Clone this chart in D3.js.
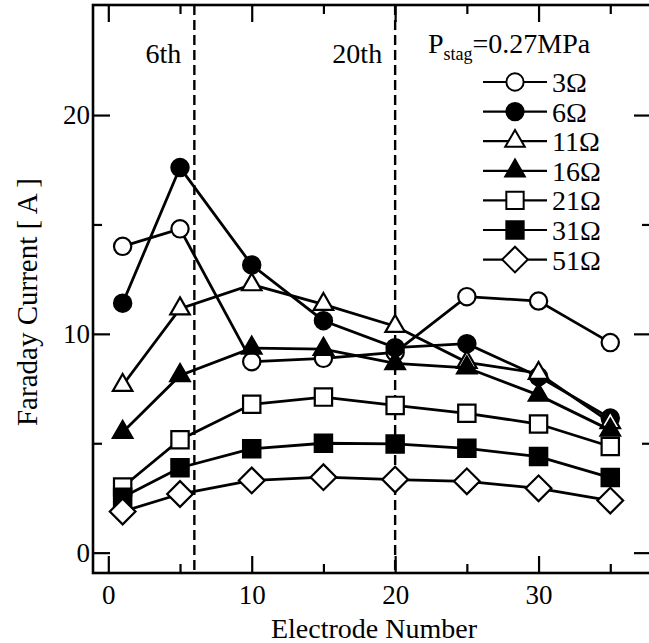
<!DOCTYPE html>
<html>
<head>
<meta charset="utf-8">
<script src="https://cdn.jsdelivr.net/npm/d3@7"></script>
<style>
  body { margin: 0; background: #fff; }
  svg { display: block; }
  text { font-family: "Liberation Serif", "Times New Roman", serif; fill: #000; }
</style>
</head>
<body>
<svg id="chart" width="649" height="643"></svg>
<script>
// Data
const electrodes = [1, 5, 10, 15, 20, 25, 30, 35];
const loadNames = ['3Ω', '6Ω', '11Ω', '16Ω', '21Ω', '31Ω', '51Ω'];
const load3 = [14.0, 14.8, 8.73, 8.88, 9.15, 11.7, 11.5, 9.6];
const load6 = [11.4, 17.6, 13.15, 10.6, 9.37, 9.55, 8.05, 6.15];
const load11 = [7.65, 11.15, 12.25, 11.35, 10.35, 8.7, 8.2, 5.95];
const load16 = [5.5, 8.1, 9.35, 9.3, 8.65, 8.45, 7.2, 5.6];
const load21 = [3.0, 5.16, 6.78, 7.11, 6.73, 6.37, 5.88, 4.85];
const load31 = [2.53, 3.88, 4.75, 5.0, 4.97, 4.77, 4.39, 3.43];
const load51 = [1.88, 2.68, 3.3, 3.45, 3.34, 3.26, 2.94, 2.38];
const seriesValues = [load3, load6, load11, load16, load21, load31, load51];
const markerTypes = ['circle', 'circle', 'triangle', 'triangle', 'square', 'square', 'diamond'];
const markerFilled = [false, true, false, true, false, true, false];

const xMajorTicks = [0, 10, 20, 30];
const xMinorTicks = [5, 15, 25, 35];
const yMajorTicks = [0, 10, 20];
const yMinorTicks = [5, 15];
const boundaryLines = [6, 20];
const boundaryLabels = ['6th', '20th'];

// Layout
const plotLeft = 93, plotRight = 651, plotTop = 5, plotBottom = 573;

const x = d3.scaleLinear().domain([-1.067, 37.84]).range([plotLeft, plotRight]);
const y = d3.scaleLinear().domain([-0.93, 25.03]).range([plotBottom, plotTop]);

const svg = d3.select('#chart');

// Axes with inward ticks
function addAxis(axis, transform, showLabels) {
    const g = svg.append('g').attr('transform', transform).call(axis);
    g.select('.domain').remove();
    g.selectAll('.tick line').attr('stroke', '#000').attr('stroke-width', 2.2);
    g.selectAll('.tick text')
        .style('font-family', '"Liberation Serif", "Times New Roman", serif')
        .style('font-size', '27px')
        .attr('fill', '#000');
    if (!showLabels) g.selectAll('.tick text').remove();
    return g;
}

addAxis(d3.axisBottom(x).tickValues(xMajorTicks).tickSizeInner(-17).tickSizeOuter(0).tickPadding(12).tickFormat(d3.format('d')),
    `translate(0,${plotBottom})`, true);
addAxis(d3.axisBottom(x).tickValues(xMinorTicks).tickSizeInner(-9).tickSizeOuter(0),
    `translate(0,${plotBottom})`, false);
addAxis(d3.axisTop(x).tickValues(xMajorTicks).tickSizeInner(-17).tickSizeOuter(0),
    `translate(0,${plotTop})`, false);
addAxis(d3.axisTop(x).tickValues(xMinorTicks).tickSizeInner(-9).tickSizeOuter(0),
    `translate(0,${plotTop})`, false);
addAxis(d3.axisLeft(y).tickValues(yMajorTicks).tickSizeInner(-17).tickSizeOuter(0).tickPadding(3).tickFormat(d3.format('d')),
    `translate(${plotLeft},0)`, true);
addAxis(d3.axisLeft(y).tickValues(yMinorTicks).tickSizeInner(-9).tickSizeOuter(0),
    `translate(${plotLeft},0)`, false);
addAxis(d3.axisRight(y).tickValues(yMajorTicks).tickSizeInner(-17).tickSizeOuter(0),
    `translate(${plotRight},0)`, false);
addAxis(d3.axisRight(y).tickValues(yMinorTicks).tickSizeInner(-9).tickSizeOuter(0),
    `translate(${plotRight},0)`, false);

// Frame
svg.append('rect')
    .attr('x', plotLeft).attr('y', plotTop)
    .attr('width', plotRight - plotLeft).attr('height', plotBottom - plotTop)
    .attr('fill', 'none').attr('stroke', '#000').attr('stroke-width', 2.6);

// Dashed boundary lines
svg.selectAll('.boundary')
    .data(boundaryLines)
    .enter()
    .append('line')
    .attr('class', 'boundary')
    .attr('x1', d => x(d)).attr('x2', d => x(d))
    .attr('y1', plotTop).attr('y2', plotBottom)
    .attr('stroke', '#000').attr('stroke-width', 2.4)
    .attr('stroke-dasharray', '10,5');

svg.selectAll('.boundary-label')
    .data(boundaryLines)
    .enter()
    .append('text')
    .attr('x', d => x(d) - 13)
    .attr('y', 63)
    .attr('text-anchor', 'end')
    .style('font-size', '28px')
    .text((d, i) => boundaryLabels[i]);

// Marker shapes
function markerPath(type) {
    if (type === 'circle') return d3.symbol(d3.symbolCircle, 235)();
    if (type === 'triangle') return d3.symbol(d3.symbolTriangle, 165)();
    if (type === 'square') return d3.symbol(d3.symbolSquare, 300)();
    return d3.symbol(d3.symbolSquare, 330)();
}
function markerRotate(type) {
    return type === 'diamond' ? ' rotate(45)' : '';
}

const line = d3.line()
    .x((d, i) => x(electrodes[i]))
    .y(d => y(d));

// Series
seriesValues.forEach((vals, s) => {
    const g = svg.append('g').attr('class', 'series');
    g.append('path')
        .attr('d', line(vals))
        .attr('fill', 'none')
        .attr('stroke', '#000')
        .attr('stroke-width', 2.8);
    g.selectAll('.mark')
        .data(vals)
        .enter()
        .append('path')
        .attr('class', 'mark')
        .attr('d', markerPath(markerTypes[s]))
        .attr('transform', (d, i) => `translate(${x(electrodes[i])},${y(d)})` + markerRotate(markerTypes[s]))
        .attr('fill', markerFilled[s] ? '#000' : '#fff')
        .attr('stroke', '#000')
        .attr('stroke-width', 2.2);
});

// Legend
svg.append('text')
    .attr('x', 428).attr('y', 53)
    .style('font-size', '28px')
    .html('P<tspan dy="7" style="font-size:18px">stag</tspan><tspan dy="-7">=0.27MPa</tspan>');

const legend = svg.selectAll('.legend-item')
    .data(loadNames)
    .enter()
    .append('g')
    .attr('class', 'legend-item')
    .attr('transform', (d, i) => `translate(0,${82 + i * 29.6})`);

legend.append('line')
    .attr('x1', 483).attr('x2', 547)
    .attr('y1', 0).attr('y2', 0)
    .attr('stroke', '#000').attr('stroke-width', 2.2);

legend.append('path')
    .attr('d', (d, i) => markerPath(markerTypes[i]))
    .attr('transform', (d, i) => 'translate(515,0)' + markerRotate(markerTypes[i]))
    .attr('fill', (d, i) => markerFilled[i] ? '#000' : '#fff')
    .attr('stroke', '#000')
    .attr('stroke-width', 2);

legend.append('text')
    .attr('x', 552).attr('y', 10)
    .style('font-size', '28px')
    .text(d => d);

// Axis titles
svg.append('text')
    .attr('x', (plotLeft + plotRight) / 2 + 2)
    .attr('y', 638)
    .attr('text-anchor', 'middle')
    .style('font-size', '28px')
    .text('Electrode Number');

svg.append('text')
    .attr('transform', 'translate(37,302) rotate(-90)')
    .attr('text-anchor', 'middle')
    .style('font-size', '29px')
    .text('Faraday Current [ A ]');
</script>
</body>
</html>
